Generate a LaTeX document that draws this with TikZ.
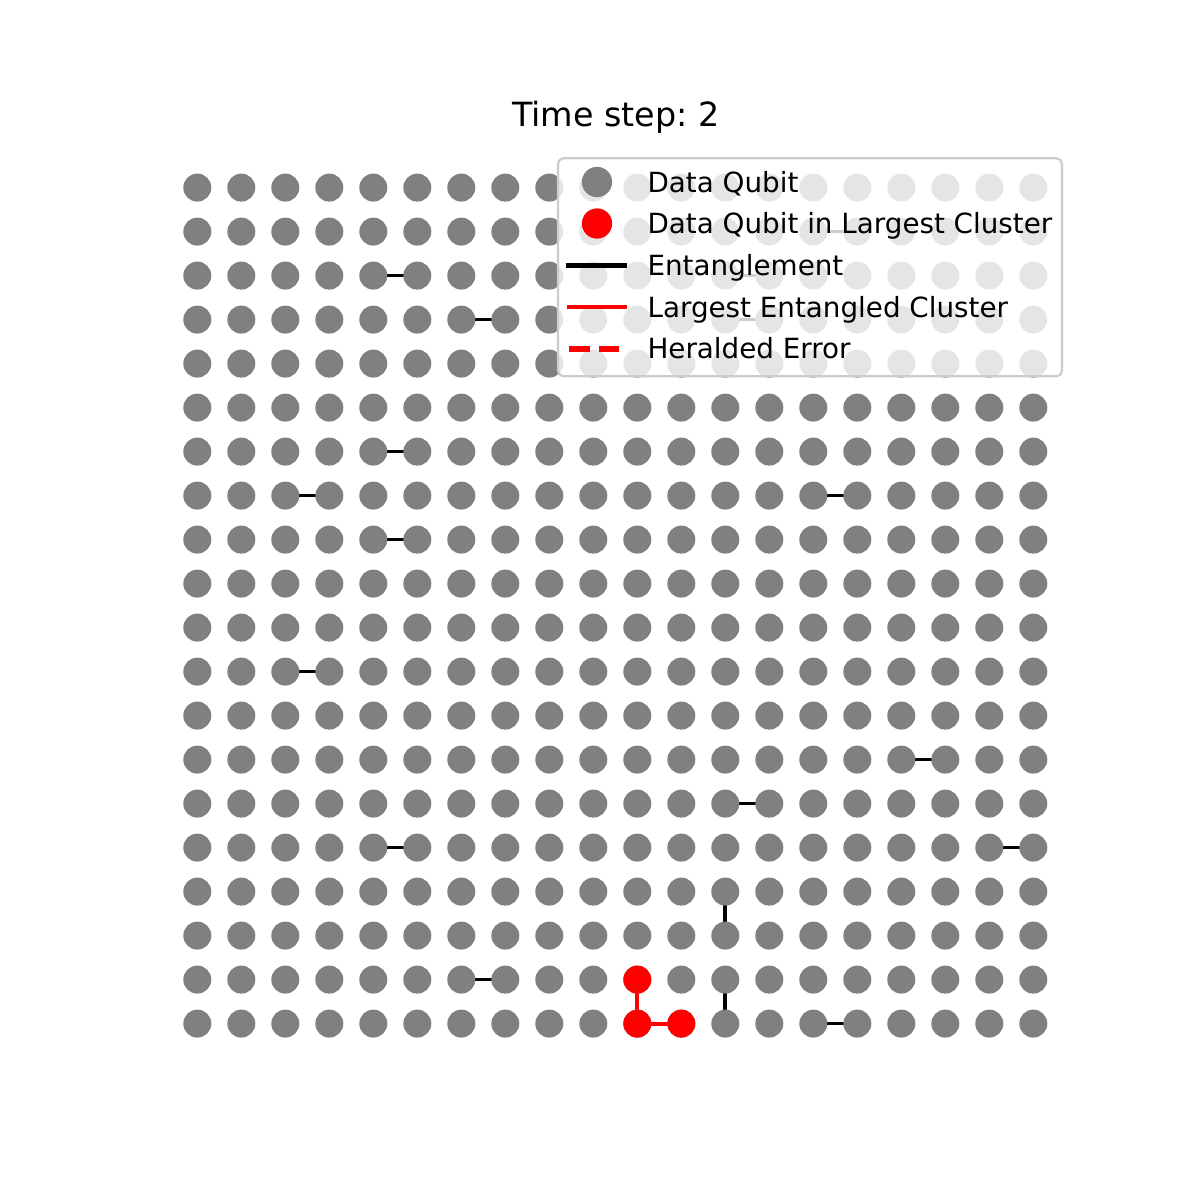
\documentclass[tikz,border=0pt]{standalone}
\usepackage{fontspec}
\setmainfont{DejaVu Sans}
\frenchspacing
\pgfdeclarelayer{background}
\pgfsetlayers{background,main}
\definecolor{qgray}{HTML}{808080}
\definecolor{lgdframe}{HTML}{CCCCCC}
\begin{document}
\begin{tikzpicture}[x=0.36pt,y=-0.36pt,
  qubit/.style={circle,fill=qgray,inner sep=0pt,minimum size=10.08pt},
  redqubit/.style={qubit,fill=red},
  lgdmark/.style={circle,inner sep=0pt,minimum size=10.9pt},
  entline/.style={line width=1.3pt,black},
  clusterline/.style={line width=1.4pt,red},
  lgdtext/.style={anchor=base west,inner sep=0pt,font=\fontsize{10pt}{12pt}\selectfont},
  titletext/.style={anchor=base,inner sep=0pt,font=\fontsize{12pt}{14pt}\selectfont}]
\useasboundingbox (0,0) rectangle (1200,1200);
\node[titletext] (title) at (616,126.5) {Time step: 2};
\foreach \i in {0,...,19}{
  \foreach \j in {0,...,19}{
    \node[qubit] (q-\i-\j) at ({197.3+44*\i},{187.6+44*\j}) {};
  }
}
\node[redqubit] (r-10-18) at (q-10-18) {};
\node[redqubit] (r-10-19) at (q-10-19) {};
\node[redqubit] (r-11-19) at (q-11-19) {};
\begin{pgfonlayer}{background}
\fill[white] (0,0) rectangle (1200,1200);
\foreach \a/\b/\c/\d in {4/2/5/2,6/3/7/3,12/2/13/2,12/3/13/3,14/1/15/1,4/6/5/6,2/7/3/7,14/7/15/7,4/8/5/8,2/11/3/11,16/13/17/13,12/14/13/14,4/15/5/15,18/15/19/15,12/16/12/17,6/18/7/18,12/18/12/19,14/19/15/19}{
  \draw[entline] (q-\a-\b.center) -- (q-\c-\d.center);
}
\draw[clusterline] (r-10-18.center) -- (r-10-19.center);
\draw[clusterline] (r-10-19.center) -- (r-11-19.center);
\end{pgfonlayer}
% legend
\node[draw=lgdframe,line width=0.8pt,fill=white,fill opacity=0.8,draw opacity=1,rounded corners=2pt,
      minimum width=181.4pt,minimum height=78.5pt,inner sep=0pt] (legend) at (810,267.3) {};
\node[lgdmark,fill=qgray] (lg-data) at (597,182) {};
\node[lgdmark,fill=red] (lg-red) at (597,223.5) {};
\coordinate (lg-e1) at (569.1,265.5);
\coordinate (lg-e2) at (624.7,265.5);
\draw[line width=2pt,black,line cap=rect] (lg-e1) -- (lg-e2);
\coordinate (lg-c1) at (569.1,307.2);
\coordinate (lg-c2) at (624.7,307.2);
\draw[line width=1.5pt,red,line cap=rect] (lg-c1) -- (lg-c2);
\coordinate (lg-h1) at (569.1,349);
\coordinate (lg-h2) at (624.7,349);
\draw[line width=2pt,red,dash pattern=on 7.4pt off 3.2pt] (lg-h1) -- (lg-h2);
\node[lgdtext] (t-data) at (647,192.2) {Data Qubit};
\node[lgdtext] (t-red) at (647,233.8) {Data Qubit in Largest Cluster};
\node[lgdtext] (t-ent) at (647,275.4) {Entanglement};
\node[lgdtext] (t-cl) at (647,317) {Largest Entangled Cluster};
\node[lgdtext] (t-her) at (647,358.6) {Heralded Error};
\end{tikzpicture}
\end{document}
